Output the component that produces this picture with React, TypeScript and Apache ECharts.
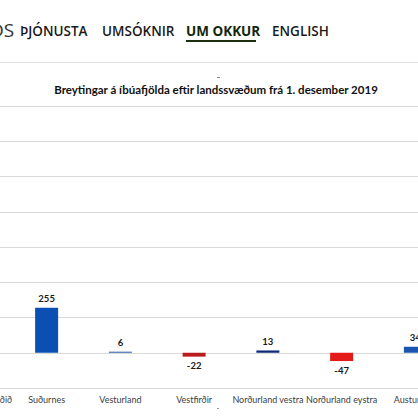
import React, { useEffect, useRef } from "react";
import * as echarts from "echarts";

const categories = [
  "Höfuðborgarsvæðið",
  "Suðurnes",
  "Vesturland",
  "Vestfirðir",
  "Norðurland vestra",
  "Norðurland eystra",
  "Austurland",
  "Suðurland",
];
const values = [1226, 255, 6, -22, 13, -47, 34, 180];
const barColors = ["#0b4fb3", "#0b4fb3", "#2f5fa8", "#b81c1c", "#0d2a7a", "#e61919", "#1a56b0", "#0b4fb3"];
const yTicks = { min: -200, max: 1400, interval: 200 };
const navItems = ["ÞJÓNUSTA", "UMSÓKNIR", "UM OKKUR", "ENGLISH"];
const chartTitle = "Breytingar á íbúafjölda eftir landssvæðum frá 1. desember 2019";

const OFF = 64; // the chart canvas starts this far left of the visible window

export default function App() {
  const ref = useRef<HTMLDivElement>(null);
  useEffect(() => {
    if (!ref.current) return;
    const chart = echarts.init(ref.current, undefined, { renderer: "svg" });
    const navX = [20, 102, 186, 272];
    const navGraphics: any[] = navItems.map((t, i) => ({
      type: "text",
      x: navX[i] + OFF,
      y: 31,
      style: {
        text: t,
        fontFamily: "Open Sans",
        fontSize: 13.5,
        fontWeight: i === 2 ? 700 : 600,
        fill: i === 2 ? "#14280a" : "#1a1a1a",
        textVerticalAlign: "middle",
        textAlign: "left",
      },
    }));
    chart.setOption({
      animation: false,
      backgroundColor: "#ffffff",
      grid: { left: 0, right: 0, top: 106, height: 282, outerBoundsMode: "none", containLabel: false },
      xAxis: {
        type: "category",
        data: categories,
        position: "bottom",
        axisLine: { show: false },
        axisTick: { show: false },
        axisLabel: {
          fontFamily: "Lato",
          fontSize: 9,
          color: "#404040",
          margin: 7,
          interval: 0,
          hideOverlap: false,
        },
      },
      yAxis: {
        type: "value",
        min: yTicks.min,
        max: yTicks.max,
        interval: yTicks.interval,
        axisLabel: { show: false },
        axisLine: { show: false },
        axisTick: { show: false },
        splitLine: { lineStyle: { color: "#d9d9d9", width: 1 } },
      },
      series: [
        {
          type: "bar",
          barWidth: 23,
          data: values.map((v, i) => ({
            value: v,
            itemStyle: { color: barColors[i] },
            label: {
              show: true,
              position: v >= 0 ? "top" : "bottom",
              distance: 4,
              fontFamily: "Lato",
              fontWeight: "bold",
              fontSize: 9.5,
              color: "#1a1a1a",
            },
          })),
        },
      ],
      graphic: [
        {
          type: "text",
          x: -10 + OFF,
          y: 30,
          style: {
            text: "DS",
            fontFamily: "Open Sans",
            fontSize: 19,
            fill: "#333333",
            textVerticalAlign: "middle",
          },
        },
        ...navGraphics,
        {
          type: "rect",
          shape: { x: 186 + OFF, y: 40, width: 70, height: 2 },
          style: { fill: "#1c2e10" },
        },
        {
          type: "line",
          shape: { x1: 0, y1: 62.5, x2: 590, y2: 62.5 },
          style: { stroke: "#e0e0e0", lineWidth: 1 },
        },
        {
          type: "line",
          shape: { x1: 217 + OFF, y1: 77.5, x2: 220 + OFF, y2: 77.5 },
          style: { stroke: "#888888", lineWidth: 1 },
        },
        {
          type: "text",
          x: 216 + OFF,
          y: 89,
          style: {
            text: chartTitle,
            fontFamily: "Lato",
            fontWeight: "bold",
            fontSize: 11.5,
            fill: "#111111",
            textAlign: "center",
            textVerticalAlign: "middle",
          },
        },
        {
          type: "line",
          shape: { x1: 217 + OFF, y1: 408.5, x2: 219 + OFF, y2: 408.5 },
          style: { stroke: "#999999", lineWidth: 1 },
        },
      ],
    });
    return () => chart.dispose();
  }, []);
  return (
    <div
      style={{
        position: "absolute",
        left: 0,
        top: 0,
        width: 418,
        height: 418,
        overflow: "hidden",
        background: "#ffffff",
      }}
    >
      <div
        ref={ref}
        style={{ position: "absolute", left: -OFF, top: 0, width: 590, height: 418 }}
      />
    </div>
  );
}
